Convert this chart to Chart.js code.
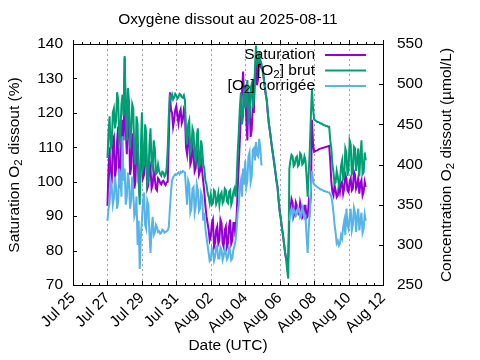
<!DOCTYPE html>
<html>
<head>
<meta charset="utf-8">
<title>Oxygène dissout</title>
<script src="https://cdn.jsdelivr.net/npm/chart.js@4"></script>
<style>
  html, body { margin: 0; padding: 0; background: #fff; }
</style>
</head>
<body>
<canvas id="grafic" width="480" height="360"></canvas>
<script>
// heures depuis le 25 juillet 00:00 UTC (pas de 1,5 h)
const hours = [
  48,49.5,51,52.5,54,55.5,57,58.5,60,61.5,63,64.5,66,67.5,69,70.5,
  72,73.5,75,76.5,78,79.5,81,82.5,84,85.5,87,88.5,90,91.5,93,94.5,
  96,97.5,99,100.5,102,103.5,105,106.5,108,109.5,111,112.5,114,115.5,117,118.5,
  120,121.5,123,124.5,126,127.5,129,130.5,132,133.5,135,136.5,138,139.5,141,142.5,
  144,145.5,147,148.5,150,151.5,153,154.5,156,157.5,159,160.5,162,163.5,165,166.5,
  168,169.5,171,172.5,174,175.5,177,178.5,180,181.5,183,184.5,186,187.5,189,190.5,
  192,193.5,195,196.5,198,199.5,201,202.5,204,205.5,207,208.5,210,211.5,213,214.5,
  216,217.5,219,220.5,222,223.5,225,226.5,228,229.5,231,232.5,234,235.5,237,238.5,
  240,241.5,243,244.5,246,247.5,249,250.5,252,253.5,255,256.5,258,259.5,261,262.5,
  264,265.5,267,268.5,270,271.5,273,274.5,276,277.5,279,280.5,282,283.5,285,286.5,
  288,289.5,291,292.5,294,295.5,297,298.5,300,301.5,303,304.5,306,307.5,309,310.5,
  312,313.5,315,316.5,318,319.5,321,322.5,324,325.5,327,328.5,330,331.5,333,334.5,
  336,337.5,339,340.5,342,343.5,345,346.5,348,349.5,351,352.5,354,355.5,357,358.5,
  360,361.5,363,364.5,366,367.5,369,370.5,372,373.5,375,376.5,378,379.5,381,382.5,
  384,385.5,387,388.5,390,391.5,393,394.5,396,397.5,399,400.5,402,403.5,405,406.5,
  408];

// saturation (%)
const saturation = [
  93,104,110,98,100,112,113,101, 104,112,116,99,100,114,118,112,
  136,115,108,120,118,102,104,114, 112,98,100,111,108,100,96,106,
  113,101,102,110,108,98,99,106, 104,98,99,103,101,98,97.5,101,
  100.5,99.6,99.2,100.1,100.3,99.5,99,99.8, 100,112,126,121,120,116,118,121,
  122,119,117,120,121,117,118,121, 120,110,108,113,112,105,106,110,
  108,103,104,109,107,102,103,106, 103,100,97,93,90,88,86,83,
  84,88,89,81,82,86,87,82, 83,89,88,82,81,86,87,81,
  82,87,89,82,83,88,88,84, 90,98,105,112,120,126,132,124,
  128,118,112,126,124,113,115,122, 120,131,136,128,130,137,134,133,
  132.7,130.9,128,125.5,123.7,119.8,116.8,114.8, 112.1,109.5,107.5,105.5,102.8,100.2,98.5,94.6,
  91.5,89.5,86.8,84.8,82.2,79.5,77.6,76.8, 78,90,92,95,94,90,91,94,
  93,91,90.5,94,92.5,89.5,90,93, 93,89.5,90,94,92,96,118,111,
  108.7,108.9,109,109.1,109.3,109.5,109.6,109.7, 109.8,109.9,110,110.1,110.2,110.3,110.4,106,
  100,97,96,99,97.5,95.5,96,99, 97,99.5,100,96.5,98,102,101,97.5,
  97,100,101,97.5,98,103,102,98, 99,101,96.5,99.5,100.5,96,97,100,
  98.5];

// [O2] brut (µmol/L)
const o2Brut = [
  408,440,460,420,425,465,470,445, 455,490,480,430,437,475,487,460,
  535,470,430,495,480,420,440,475, 470,410,400,460,450,380,350,420,
  465,395,400,450,440,375,380,425, 445,400,395,430,420,388,390,400,
  392,388,386,391,390,385,387,395, 420,460,485,482,487,481,484,488,
  486,482,484,488,487,484,483,486, 480,440,425,450,455,415,420,445,
  440,410,405,435,445,398,400,430, 420,400,395,380,375,365,360,352,
  362,350,352,368,366,351,355,364, 350,362,365,352,355,370,368,354,
  352,366,368,350,355,366,370,360, 380,415,440,470,490,450,460,495,
  470,490,505,455,460,495,500,470, 480,515,548,525,520,540,530,526,
  519,508,499,488,480,465,450,441, 430,421,410,400,391,381,372,357,
  342,333,322,312,302,291,282,268, 258,395,405,412,410,398,400,408,
  410,398,400,414,412,400,402,410, 405,385,360,390,420,460,495,470,
  456,455,454,453,453,452,451,451, 450,449,449,448,448,447,447,430,
  420,400,390,376,378,392,385,374, 378,398,405,382,385,420,415,386,
  395,430,425,388,390,422,420,392, 405,420,385,410,430,388,390,415,
  405];

// [O2] corrigée (µmol/L)
const o2Corr = [
  330,345,352,380,372,350,358,385, 372,345,355,395,385,360,435,380,
  395,350,360,390,380,345,355,385, 365,335,340,360,300,330,270,310,
  330,355,365,325,320,355,350,315, 290,320,335,312,315,325,322,316,
  317,314,315,319,318,315,316,317, 318,322,345,365,380,384,386,388,
  387,389,390,388,391,390,392,391, 390,370,350,380,375,340,345,370,
  372,340,348,375,368,342,345,365, 360,330,340,320,310,300,290,280,
  282,296,292,280,285,298,296,283, 283,297,294,281,286,295,290,282,
  285,296,292,281,283,294,298,305, 320,340,350,372,380,360,395,375,
  405,372,380,410,415,378,385,418, 420,405,428,412,410,432,420,400,
  400,null,null,null,null,null,null,null, null,null,null,null,null,null,null,null,
  null,null,null,null,null,null,null,null, null,330,340,345,335,344,342,336,
  338,346,345,334,336,347,342,333, 335,310,290,320,340,370,392,380,
  375,374,373,372,371,370,369,369, 368,367,367,366,366,365,365,363,
  360,352,340,325,315,302,305,299, 302,312,308,322,330,312,345,325,
  320,335,345,318,325,346,340,316, 335,345,318,330,340,315,320,338,
  330];

const tickHours = [0,48,96,144,192,240,288,336,384,432];
const tickLabels = ['Jul 25','Jul 27','Jul 29','Jul 31','Aug 02','Aug 04','Aug 06','Aug 08','Aug 10','Aug 12'];
const satTicks = [70,80,90,100,110,120,130,140];
const concTicks = [250,300,350,400,450,500,550];

const FONT = '"Liberation Sans", Arial, sans-serif';
const PURPLE = '#9400d3', GREEN = '#009e73', BLUE = '#56b4e9';

function toPoints(values) {
    return hours.map((h, i) => ({x: h, y: values[i]}));
}

// texte avec indice (O2)
function drawRich(ctx, parts, x, y, align) {
    const size = 15.5;
    let total = 0;
    parts.forEach(p => {
        ctx.font = (p.sub ? size * 0.75 : size) + 'px ' + FONT;
        p.w = ctx.measureText(p.t).width;
        total += p.w;
    });
    let cx = align === 'right' ? x - total : (align === 'center' ? x - total / 2 : x);
    parts.forEach(p => {
        ctx.font = (p.sub ? size * 0.75 : size) + 'px ' + FONT;
        ctx.textAlign = 'left';
        ctx.textBaseline = 'middle';
        ctx.fillText(p.t, cx, p.sub ? y + 4 : y);
        cx += p.w;
    });
}

const frame = {
    id: 'frame',
    beforeDatasetsDraw(chart) {
        const ctx = chart.ctx;
        const a = chart.chartArea;
        const xs = chart.scales.x;
        ctx.save();
        ctx.strokeStyle = '#a0a0a0';
        ctx.lineWidth = 1;
        ctx.setLineDash([2, 3]);
        tickHours.slice(1, -1).forEach(h => {
            const px = Math.round(xs.getPixelForValue(h)) + 0.5;
            ctx.beginPath();
            ctx.moveTo(px, a.top);
            ctx.lineTo(px, a.bottom);
            ctx.stroke();
        });
        ctx.restore();
    },
    afterDatasetsDraw(chart) {
        const ctx = chart.ctx;
        const a = chart.chartArea;
        const xs = chart.scales.x, ys = chart.scales.y, y2 = chart.scales.y2;
        ctx.save();
        ctx.strokeStyle = '#000';
        ctx.lineWidth = 1;
        ctx.strokeRect(Math.round(a.left) + 0.5, Math.round(a.top) + 0.5,
            Math.round(a.right - a.left), Math.round(a.bottom - a.top));
        ctx.beginPath();
        for (let h = 0; h <= 432; h += 12) {
            const px = Math.round(xs.getPixelForValue(h)) + 0.5;
            const len = h % 48 === 0 ? 4 : 2;
            ctx.moveTo(px, a.bottom);
            ctx.lineTo(px, a.bottom - len);
            ctx.moveTo(px, a.top);
            ctx.lineTo(px, a.top - len);
        }
        satTicks.forEach(v => {
            const py = Math.round(ys.getPixelForValue(v)) + 0.5;
            ctx.moveTo(a.left, py);
            ctx.lineTo(a.left + 4, py);
        });
        concTicks.forEach(v => {
            const py = Math.round(y2.getPixelForValue(v)) + 0.5;
            ctx.moveTo(a.right, py);
            ctx.lineTo(a.right - 4, py);
        });
        ctx.stroke();

        // légende
        const rows = [
            {parts: [{t: 'Saturation'}], color: PURPLE, y: 55},
            {parts: [{t: '[O'}, {t: '2', sub: true}, {t: '] brut'}], color: GREEN, y: 70.5},
            {parts: [{t: '[O'}, {t: '2', sub: true}, {t: '] corrigée'}], color: BLUE, y: 86}
        ];
        rows.forEach(r => {
            ctx.fillStyle = '#000';
            drawRich(ctx, r.parts, 315, r.y, 'right');
            ctx.strokeStyle = r.color;
            ctx.lineWidth = 2;
            ctx.beginPath();
            ctx.moveTo(325, r.y);
            ctx.lineTo(366, r.y);
            ctx.stroke();
        });
        ctx.restore();
    },
    afterDraw(chart) {
        const ctx = chart.ctx;
        ctx.save();
        ctx.fillStyle = '#000';
        drawRich(ctx, [{t: 'Oxygène dissout au 2025-08-11'}], 228, 20, 'center');
        drawRich(ctx, [{t: 'Date (UTC)'}], 228, 346, 'center');
        ctx.translate(15, 165);
        ctx.rotate(-Math.PI / 2);
        drawRich(ctx, [{t: 'Saturation O'}, {t: '2', sub: true}, {t: ' dissout (%)'}], 0, 0, 'center');
        ctx.restore();
        ctx.save();
        ctx.fillStyle = '#000';
        ctx.translate(447, 165);
        ctx.rotate(-Math.PI / 2);
        drawRich(ctx, [{t: 'Concentration O'}, {t: '2', sub: true}, {t: ' dissout (µmol/L)'}], 0, 0, 'center');
        ctx.restore();
    }
};

Chart.defaults.color = '#000';
Chart.defaults.font.family = FONT;
Chart.defaults.font.size = 15.5;

const ctx = document.getElementById('grafic');
const grafica = new Chart(ctx, {
    type: 'line',
    data: {
        datasets: [
            {label: 'Saturation', data: toPoints(saturation), yAxisID: 'y', borderColor: PURPLE, order: 3},
            {label: '[O2] brut', data: toPoints(o2Brut), yAxisID: 'y2', borderColor: GREEN, order: 2},
            {label: '[O2] corrigée', data: toPoints(o2Corr), yAxisID: 'y2', borderColor: BLUE, order: 1}
        ]
    },
    options: {
        responsive: false,
        animation: false,
        devicePixelRatio: 1,
        layout: {padding: {top: 44, left: 0, right: 0, bottom: 0}},
        elements: {
            line: {borderWidth: 2, tension: 0, fill: false, borderJoinStyle: 'miter'},
            point: {radius: 0}
        },
        plugins: {legend: {display: false}, title: {display: false}, tooltip: {enabled: false}},
        scales: {
            x: {
                type: 'linear', min: 0, max: 432,
                afterBuildTicks: s => { s.ticks = tickHours.map(v => ({value: v})); },
                afterFit: s => { s.height = 75; },
                ticks: {
                    autoSkip: false, maxRotation: 45, minRotation: 45, padding: 4,
                    callback: v => tickLabels[tickHours.indexOf(v)]
                },
                grid: {display: false, drawTicks: false},
                border: {display: false}
            },
            y: {
                position: 'left', min: 70, max: 140,
                afterBuildTicks: s => { s.ticks = satTicks.map(v => ({value: v})); },
                afterFit: s => { s.width = 73; },
                ticks: {padding: 10},
                grid: {display: false, drawTicks: false},
                border: {display: false}
            },
            y2: {
                position: 'right', min: 250, max: 550,
                afterBuildTicks: s => { s.ticks = concTicks.map(v => ({value: v})); },
                afterFit: s => { s.width = 97; },
                ticks: {padding: 14},
                grid: {display: false, drawTicks: false},
                border: {display: false}
            }
        }
    },
    plugins: [frame]
});
</script>
</body>
</html>
